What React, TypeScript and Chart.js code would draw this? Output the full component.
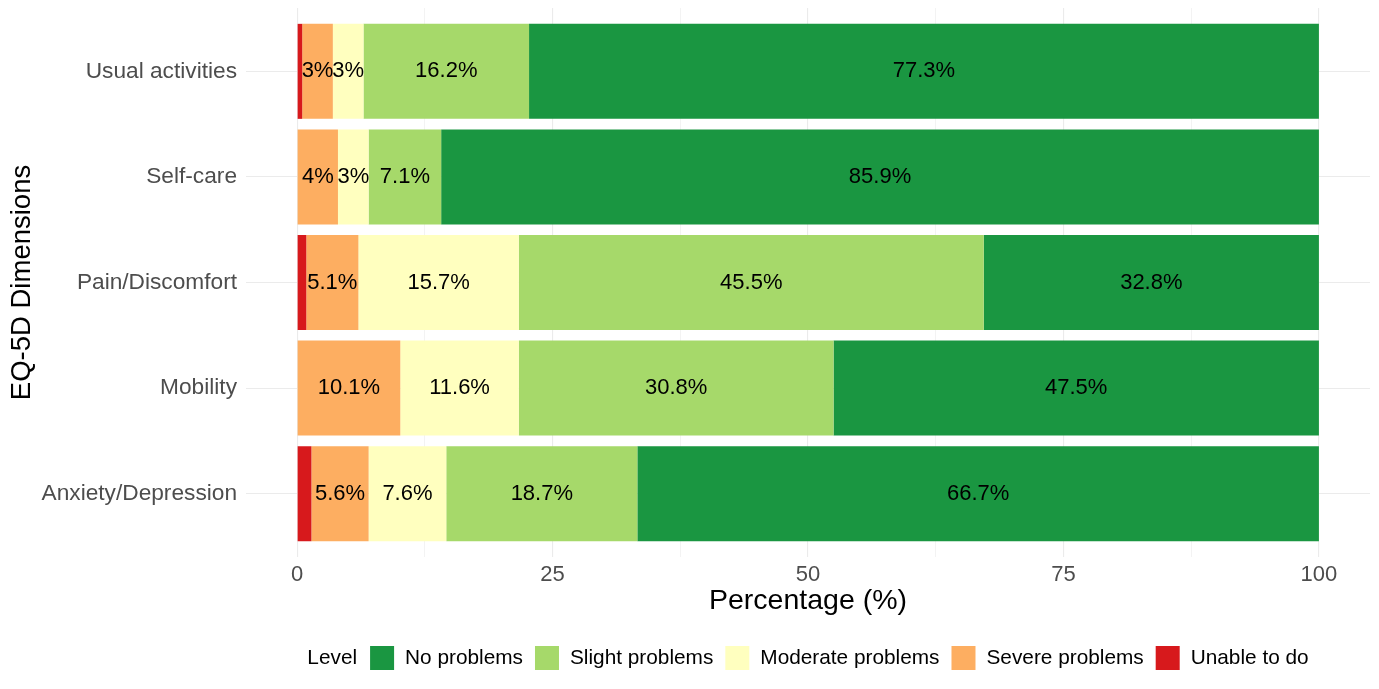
import { useEffect, useRef } from 'react';
import { Chart, registerables } from 'chart.js';

Chart.register(...registerables);

const dimensions = ['Usual activities', 'Self-care', 'Pain/Discomfort', 'Mobility', 'Anxiety/Depression'];

// stacked left -> right: unable, severe, moderate, slight, none
const unableToDo = [0.5, 0, 0.9, 0, 1.4];
const severeProblems = [3.0, 4.0, 5.1, 10.1, 5.6];
const moderateProblems = [3.0, 3.0, 15.7, 11.6, 7.6];
const slightProblems = [16.2, 7.1, 45.5, 30.8, 18.7];
const noProblems = [77.3, 85.9, 32.8, 47.5, 66.7];

const levelNames = ['Unable to do', 'Severe problems', 'Moderate problems', 'Slight problems', 'No problems'];
const xTicks = [0, 12.5, 25, 37.5, 50, 62.5, 75, 87.5, 100];

const palette = {
  unable: '#d7191c',
  severe: '#fdae61',
  moderate: '#ffffbf',
  slight: '#a6d96a',
  none: '#1a9641',
  grid: '#ebebeb',
  tick: '#4d4d4d',
  text: '#000000',
};

const fontFamily = "'Liberation Sans', Arial, Helvetica, sans-serif";

const barLabels = {
  id: 'barLabels',
  afterDatasetsDraw(chart: Chart) {
    const ctx = chart.ctx;
    ctx.save();
    ctx.font = `22px ${fontFamily}`;
    ctx.fillStyle = palette.text;
    ctx.textAlign = 'center';
    ctx.textBaseline = 'middle';
    chart.data.datasets.forEach((ds, i) => {
      const meta = chart.getDatasetMeta(i);
      meta.data.forEach((bar: any, j) => {
        const v = ds.data[j] as number;
        if (!v || v < 2.5) return;
        const x = (bar.x + bar.base) / 2;
        ctx.fillText(`${Number(v.toFixed(1))}%`, x, bar.y);
      });
    });
    ctx.restore();
  },
};

const bottomLegend = {
  id: 'bottomLegend',
  afterDraw(chart: Chart) {
    const ctx = chart.ctx;
    const area = chart.chartArea;
    const box = 24;
    ctx.save();
    ctx.font = `20.8px ${fontFamily}`;
    ctx.textBaseline = 'middle';
    ctx.textAlign = 'left';
    // legend goes in reverse stacking order
    const items = chart.data.datasets.map((ds) => ({ text: ds.label as string, color: ds.backgroundColor as string })).reverse();
    const titleW = ctx.measureText('Level').width;
    let total = titleW + 13;
    items.forEach((it, k) => {
      total += box + 11 + ctx.measureText(it.text).width + (k < items.length - 1 ? 12 : 0);
    });
    let x = (area.left + area.right) / 2 - total / 2;
    const y = 658;
    ctx.fillStyle = palette.text;
    ctx.fillText('Level', x, y);
    x += titleW + 13;
    items.forEach((it) => {
      ctx.fillStyle = it.color;
      ctx.fillRect(x, y - box / 2, box, box);
      x += box + 11;
      ctx.fillStyle = palette.text;
      ctx.fillText(it.text, x, y);
      x += ctx.measureText(it.text).width + 12;
    });
    ctx.restore();
  },
};

export default function App(): JSX.Element {
  const canvasRef = useRef<HTMLCanvasElement | null>(null);
  const chartRef = useRef<Chart | null>(null);

  useEffect(() => {
    if (!canvasRef.current) return;
    const context = canvasRef.current.getContext('2d');
    if (!context) return;

    const series = [unableToDo, severeProblems, moderateProblems, slightProblems, noProblems];
    const colors = [palette.unable, palette.severe, palette.moderate, palette.slight, palette.none];

    chartRef.current = new Chart(context, {
      type: 'bar',
      data: {
        labels: dimensions,
        datasets: series.map((data, i) => ({
          label: levelNames[i],
          data,
          backgroundColor: colors[i],
          borderWidth: 0,
          barPercentage: 0.9,
          categoryPercentage: 1,
        })),
      },
      options: {
        indexAxis: 'y',
        responsive: true,
        maintainAspectRatio: false,
        animation: false,
        layout: { padding: { left: 0, right: 9, top: 8, bottom: 67 } },
        plugins: {
          legend: { display: false },
          tooltip: { enabled: false },
        },
        scales: {
          x: {
            stacked: true,
            min: -5,
            max: 105,
            afterBuildTicks: (scale: any) => {
              scale.ticks = xTicks.map((value) => ({ value }));
            },
            afterFit: (scale: any) => {
              scale.height = 65;
              scale.paddingLeft = 0;
              scale.paddingRight = 0;
            },
            border: { display: false },
            grid: {
              drawTicks: false,
              color: palette.grid,
              lineWidth: (c: any) => (c.tick && c.tick.value % 25 === 0 ? 1.1 : 0.6),
            },
            ticks: {
              autoSkip: false,
              maxRotation: 0,
              padding: 5,
              color: palette.tick,
              font: { family: fontFamily, size: 22 },
              callback: (value: any) => (Number(value) % 25 === 0 ? String(value) : ''),
            },
            title: {
              display: true,
              text: 'Percentage (%)',
              color: palette.text,
              font: { family: fontFamily, size: 28.5 },
              padding: { top: 4, bottom: 4 },
            },
          },
          y: {
            stacked: true,
            afterBuildTicks: (scale: any) => {
              // ggplot-like 0.6 band expansion on a discrete axis
              scale._startValue = -0.6;
              scale._valueRange = dimensions.length + 0.2;
            },
            afterFit: (scale: any) => {
              scale.width = 246;
              scale.paddingTop = 0;
              scale.paddingBottom = 0;
            },
            border: { display: false },
            grid: {
              offset: false,
              drawTicks: false,
              color: palette.grid,
              lineWidth: 1.1,
            },
            ticks: {
              padding: 9,
              color: palette.tick,
              font: { family: fontFamily, size: 22.7 },
            },
            title: {
              display: true,
              text: 'EQ-5D Dimensions',
              color: palette.text,
              font: { family: fontFamily, size: 27.5 },
              padding: { top: 6, bottom: 4 },
            },
          },
        },
      },
      plugins: [barLabels, bottomLegend],
    });

    return () => {
      chartRef.current?.destroy();
      chartRef.current = null;
    };
  }, []);

  return (
    <div style={{ position: 'absolute', left: 0, top: 0, width: 1379, height: 689, background: '#ffffff' }}>
      <canvas ref={canvasRef} />
    </div>
  );
}
